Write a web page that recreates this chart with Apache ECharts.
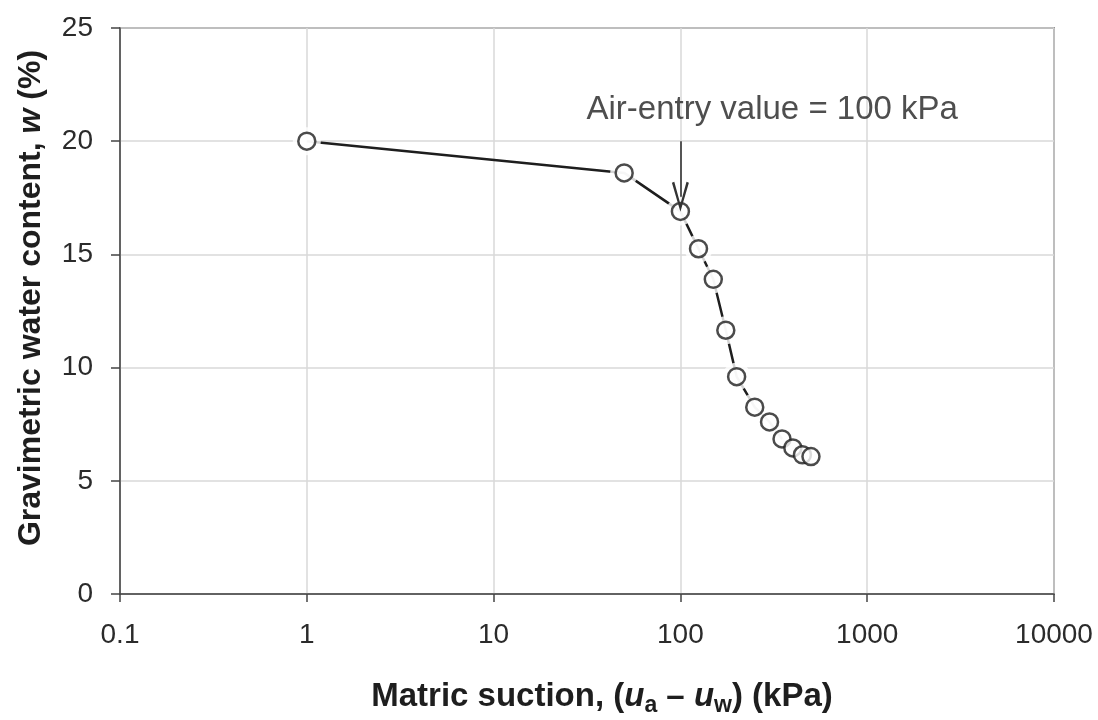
<!DOCTYPE html>
<html>
<head>
<meta charset="utf-8">
<title>Soil-water characteristic curve</title>
<script src="https://cdn.jsdelivr.net/npm/echarts@6/dist/echarts.min.js"></script>
<style>
  html, body { margin: 0; padding: 0; background: #fff; }
  #chart { width: 1098px; height: 720px; }
</style>
</head>
<body>
<div id="chart"></div>
<script>
// Matric suction (kPa) and gravimetric water content (%) for the drying curve
const suction = [1, 50, 100, 125, 150, 175, 200, 250, 300, 350, 400, 450, 500];
const waterContent = [20.0, 18.6, 16.9, 15.25, 13.9, 11.65, 9.6, 8.25, 7.6, 6.85, 6.45, 6.15, 6.07];

// Air-entry annotation: arrow from the label down to the air-entry point
const airEntryValue = 100;
const arrowFromTo = [20.0, 17.55];
const airEntryLabel = 'Air-entry value = 100 kPa';
const airEntryLabelAt = [310, 21.38];

// Axis ranges
const xRange = [0.1, 10000];
const yTicks = [0, 5, 10, 15, 20, 25];

const points = suction.map((s, i) => [s, waterContent[i]]);

const FONT = '"Liberation Sans", Arial, Helvetica, sans-serif';
const INK = '#1e1e1e';
const AXIS = '#444';
const GRID = '#d9d9d9';

const chart = echarts.init(document.getElementById('chart'), null, { renderer: 'canvas' });

chart.setOption({
  backgroundColor: '#fff',
  animation: false,
  grid: {
    left: 120, right: 44, top: 28, bottom: 126,
    show: true, borderColor: AXIS, borderWidth: 1.5, backgroundColor: 'transparent'
  },
  xAxis: {
    type: 'log',
    logBase: 10,
    min: xRange[0],
    max: xRange[1],
    axisLine: { show: true, lineStyle: { color: AXIS, width: 1.5 } },
    axisTick: { show: true, inside: false, length: 8, lineStyle: { color: AXIS, width: 1.5 } },
    minorTick: { show: false },
    splitLine: { show: true, lineStyle: { color: GRID, width: 1.5 } },
    axisLabel: {
      margin: 27, color: '#2b2b2b', fontSize: 28, fontFamily: FONT,
      formatter: v => String(+v.toPrecision(6))
    }
  },
  yAxis: {
    type: 'value',
    min: yTicks[0],
    max: yTicks[yTicks.length - 1],
    interval: 5,
    axisLine: { show: true, lineStyle: { color: AXIS, width: 1.5 } },
    axisTick: { show: true, inside: false, length: 9, lineStyle: { color: AXIS, width: 1.5 } },
    splitLine: { show: true, lineStyle: { color: GRID, width: 1.5 } },
    axisLabel: { margin: 27, color: '#2b2b2b', fontSize: 28, fontFamily: FONT }
  },
  graphic: [
    {
      type: 'text',
      x: 602, y: 697,
      style: {
        text: 'Matric suction, ({i|u}{sub|a} – {i|u}{sub|w}) (kPa)',
        fontFamily: FONT, fontSize: 33, fontWeight: 'bold', fill: INK,
        align: 'center', verticalAlign: 'middle',
        rich: {
          i: { fontFamily: FONT, fontSize: 33, fontWeight: 'bold', fontStyle: 'italic', fill: INK },
          sub: { fontFamily: FONT, fontSize: 23, fontWeight: 'bold', fill: INK, padding: [18, 0, 0, 0] }
        }
      }
    },
    {
      type: 'text',
      x: 31, y: 298,
      rotation: Math.PI / 2,
      style: {
        text: 'Gravimetric water content, {i|w} (%)',
        fontFamily: FONT, fontSize: 32, fontWeight: 'bold', fill: INK,
        align: 'center', verticalAlign: 'middle',
        rich: {
          i: { fontFamily: FONT, fontSize: 32, fontWeight: 'bold', fontStyle: 'italic', fill: INK }
        }
      }
    }
  ],
  series: [
    {
      // connecting line
      type: 'line',
      data: points,
      showSymbol: false,
      symbol: 'none',
      lineStyle: { color: INK, width: 2.5 },
      z: 2
    },
    {
      // white halo that opens a gap in the line around each marker
      type: 'scatter',
      data: points,
      symbol: 'circle',
      symbolSize: 28,
      itemStyle: { color: '#fff', borderWidth: 0 },
      silent: true,
      z: 3
    },
    {
      // open circle markers
      type: 'scatter',
      data: points,
      symbol: 'circle',
      symbolSize: 17,
      itemStyle: { color: '#fff', borderColor: INK, borderWidth: 2.5 },
      z: 4
    },
    {
      // air-entry arrow and its label
      type: 'scatter',
      data: [airEntryLabelAt],
      symbolSize: 0,
      silent: true,
      z: 5,
      label: {
        show: true, position: 'inside',
        formatter: airEntryLabel,
        color: '#222', fontSize: 33, fontFamily: FONT
      },
      markLine: {
        silent: true,
        z: 6,
        symbol: ['none', 'path://M10,0 L20,28 L17.2,29 L10,7.5 L2.8,29 L0,28 Z'],
        symbolSize: [17, 30],
        label: { show: false },
        lineStyle: { color: '#333', width: 1.6, type: 'solid' },
        data: [[
          { coord: [airEntryValue, arrowFromTo[0]] },
          { coord: [airEntryValue, arrowFromTo[1]] }
        ]]
      }
    }
  ]
});
</script>
</body>
</html>
